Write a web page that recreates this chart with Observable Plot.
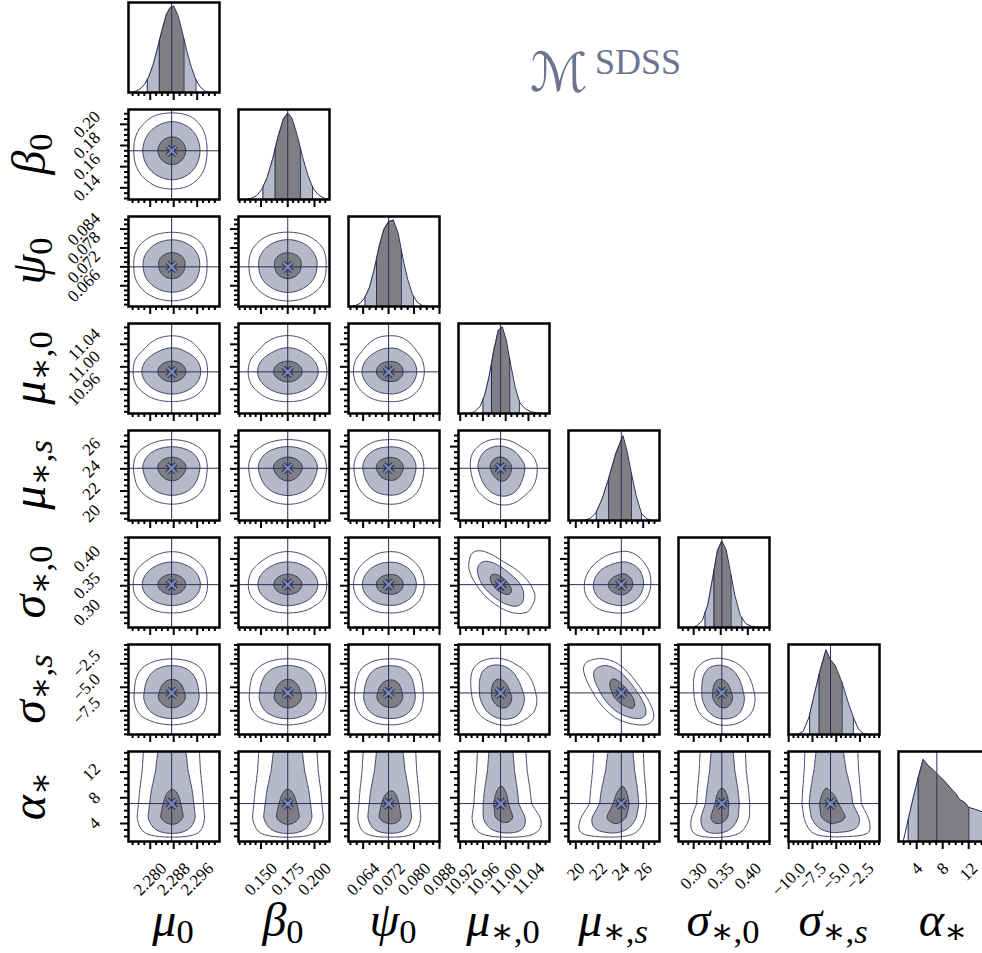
<!DOCTYPE html>
<html>
<head>
<meta charset="utf-8">
<script src="https://cdn.jsdelivr.net/npm/d3@7"></script>
<script src="https://cdn.jsdelivr.net/npm/@observablehq/plot@0.6"></script>
<style>
  body { margin: 0; background: #fff; }
  #fig { position: relative; width: 982px; height: 953px; overflow: hidden; background: #fff; }
  .lab { position: absolute; font-family: "Liberation Serif", "DejaVu Serif", serif; font-style: italic;
         font-size: 48px; line-height: 48px; white-space: nowrap; color: #000; }
  .lab sub { font-style: normal; font-size: 0.72em; vertical-align: -0.2em; line-height: 0; }
  .lab sub i { font-style: italic; }
  .ttl { position: absolute; color: #6b7590; white-space: nowrap; }
</style>
</head>
<body>
<div id="fig"></div>
<script>
// ---------------- DATA ----------------
const axisLabels = ["μ<sub>0</sub>", "β<sub>0</sub>", "ψ<sub>0</sub>", "μ<sub>∗,0</sub>",
                    "μ<sub>∗,<i>s</i></sub>", "σ<sub>∗,0</sub>", "σ<sub>∗,<i>s</i></sub>", "α<sub>∗</sub>"];
const titleMain = "ℳ";
const titleSup = "SDSS";

// plotted range of each parameter
const domains = [[2.2726, 2.3036], [0.129, 0.214], [0.0594, 0.0880], [10.917, 11.077],
                 [19.35, 27.45], [0.272, 0.440], [-10.02, -0.45], [1.2, 15.2]];
// quantiles 2.5%, 16%, 50%, 84%, 97.5%  (50% = crosshair value)
const quantiles = [
  [2.2790, 2.2831, 2.2873, 2.2915, 2.2956],
  [0.1518, 0.1632, 0.1750, 0.1868, 0.1982],
  [0.0646, 0.0682, 0.0720, 0.0760, 0.0798],
  [10.960, 10.975, 10.991, 11.007, 11.024],
  [21.82, 22.92, 24.05, 24.95, 25.84],
  [0.321, 0.3375, 0.352, 0.369, 0.389],
  [-7.8, -6.8, -5.6, -4.38, -3.2],
  [2.69, 4.23, 7.1, 12.02, 14.9]
];
// tick values
const xTicks = [[2.280, 2.288, 2.296], [0.150, 0.175, 0.200], [0.064, 0.072, 0.080, 0.088],
                [10.92, 10.96, 11.00, 11.04], [20, 22, 24, 26], [0.30, 0.35, 0.40],
                [-10.0, -7.5, -5.0, -2.5], [4, 8, 12]];
const xMinor = [0.002, 0.005, 0.002, 0.01, 0.5, 0.01, 0.5, 1];
const xFormat = [".3f", ".3f", ".3f", ".2f", "d", ".2f", ".1f", "d"];
const yTicks = [[], [0.14, 0.16, 0.18, 0.20], [0.066, 0.072, 0.078, 0.084], [10.96, 11.00, 11.04],
                [20, 22, 24, 26], [0.30, 0.35, 0.40], [-7.5, -5.0, -2.5], [4, 8, 12]];
const yMinor = [0, 0.005, 0.0015, 0.01, 0.5, 0.01, 0.5, 1];
const yFormat = [null, ".2f", ".3f", ".2f", "d", ".2f", ".1f", "d"];

// 1-D marginal curves (x, relative height)
const margX = [
  [2.2735, 2.2750, 2.2765, 2.2780, 2.2795, 2.2810, 2.2825, 2.2840, 2.2855, 2.2868, 2.2880, 2.2895, 2.2910, 2.2925, 2.2940, 2.2955, 2.2970, 2.2985, 2.3000],
  [0.136, 0.141, 0.146, 0.151, 0.156, 0.161, 0.166, 0.171, 0.175, 0.179, 0.184, 0.189, 0.194, 0.199, 0.204, 0.209, 0.213],
  [0.0600, 0.0615, 0.0630, 0.0645, 0.0660, 0.0675, 0.0690, 0.0705, 0.0720, 0.0735, 0.0750, 0.0765, 0.0780, 0.0795, 0.0810, 0.0825, 0.0840],
  [10.935, 10.945, 10.955, 10.963, 10.971, 10.979, 10.987, 10.994, 11.001, 11.009, 11.017, 11.025, 11.035, 11.045, 11.055, 11.065],
  [20.3, 20.8, 21.3, 21.8, 22.35, 22.9, 23.55, 24.2, 24.55, 24.95, 25.4, 25.85, 26.3, 26.8],
  [0.296, 0.306, 0.316, 0.326, 0.336, 0.344, 0.352, 0.360, 0.368, 0.376, 0.386, 0.396, 0.406, 0.416, 0.426],
  [-9.5, -8.98, -8.45, -7.86, -7.22, -6.70, -6.07, -5.64, -5.11, -4.41, -3.78, -3.18, -2.65, -2.12, -1.6],
  [1.3, 1.92, 2.69, 3.46, 4.23, 5.0, 5.77, 6.54, 7.2, 8.32, 9.35, 10.0, 10.6, 11.1, 11.5, 12.02, 12.94, 14.08, 15.0, 15.6]
];
const margH = [
  [0.0, 0.015, 0.04, 0.09, 0.18, 0.32, 0.51, 0.71, 0.89, 0.97, 0.99, 0.88, 0.68, 0.47, 0.29, 0.15, 0.065, 0.02, 0.0],
  [0.0, 0.015, 0.045, 0.12, 0.26, 0.47, 0.72, 0.92, 0.99, 0.93, 0.73, 0.48, 0.27, 0.12, 0.05, 0.015, 0.0],
  [0.0, 0.01, 0.035, 0.10, 0.22, 0.43, 0.68, 0.88, 0.97, 0.99, 0.84, 0.55, 0.31, 0.14, 0.05, 0.012, 0.0],
  [0.0, 0.02, 0.08, 0.21, 0.43, 0.72, 0.95, 0.99, 0.84, 0.55, 0.29, 0.12, 0.05, 0.02, 0.006, 0.0],
  [0.0, 0.005, 0.025, 0.09, 0.25, 0.47, 0.76, 0.97, 0.80, 0.54, 0.27, 0.08, 0.02, 0.0],
  [0.0, 0.02, 0.08, 0.26, 0.60, 0.88, 0.99, 0.89, 0.63, 0.37, 0.14, 0.045, 0.015, 0.004, 0.0],
  [0.0, 0.005, 0.04, 0.20, 0.50, 0.73, 0.97, 0.86, 0.79, 0.60, 0.38, 0.19, 0.06, 0.01, 0.0],
  [0.0, 0.0, 0.25, 0.50, 0.73, 0.94, 0.87, 0.82, 0.77, 0.69, 0.60, 0.55, 0.48, 0.46, 0.44, 0.39, 0.37, 0.34, 0.32, 0.31]
];
// dependence between row parameter (y) and column parameter (x)
const rho = [
  [],
  [0],
  [0, 0],
  [0, 0, 0],
  [0, 0, 0, -0.1],
  [0, 0, 0, -0.6, 0.05],
  [0, 0, 0, -0.2, -0.62, -0.15],
  [0, 0, 0, -0.45, 0.55, 0.45, -0.5]
];
const alphaSpread = [0.03, 0.03, 0.03, 0.25, 0.15, 0.1, 0.1];
const massLevels = [0.45, 0.93, 0.994];
const massLevelsAlpha = [0.28, 0.87, 0.988];

// ---------------- STYLE / LAYOUT ----------------
const LIGHT = "#b5b9c8", DARK = "#7f7f83", LINE = "#2b2d55", MARK = "#7686b0";
const FONT = '"Liberation Serif", "DejaVu Serif", serif';
const TF = 17;
const PW = 91, PH = 90;
const colX = [127.5, 237.5, 347.5, 457.5, 567.5, 677.5, 787.5, 897.5];
const rowY = [1.5, 108.5, 215.5, 322.5, 429.5, 536.5, 643.5, 750.5];
const ML = 100, MR = 6, MT = 6, MB = 80;
const N = 8;

const fig = document.getElementById("fig");
const ctx = document.createElement("canvas").getContext("2d");
function textW(s) { ctx.font = `${TF}px ${FONT}`; return ctx.measureText(s).width; }

function interp(xs, hs, x) {
  if (x < xs[0] || x > xs[xs.length - 1]) return 0;
  let k = Math.min(xs.length - 2, Math.max(0, d3.bisectRight(xs, x) - 1));
  const t = (x - xs[k]) / (xs[k + 1] - xs[k]);
  return hs[k] + t * (hs[k + 1] - hs[k]);
}
const sig = v => (quantiles[v][3] - quantiles[v][1]) / 2;

// smoothed lookup of a marginal (for the 2-D contours)
function smoothDensity(v) {
  const xs = margX[v], hs = margH[v];
  const span = xs[xs.length - 1] - xs[0];
  const a = xs[0] - 0.2 * span, b = xs[xs.length - 1] + 0.2 * span;
  const M = 800, step = (b - a) / M;
  const raw = d3.range(M + 1).map(k => interp(xs, hs, a + k * step));
  const s = 0.35 * (span / (xs.length - 1)) / step;
  const R = Math.ceil(3 * s);
  const ker = d3.range(-R, R + 1).map(k => Math.exp(-0.5 * (k / s) ** 2));
  const sm = raw.map((_, k) => {
    let acc = 0, w = 0;
    for (let m = -R; m <= R; m++) { const kk = k + m; if (kk >= 0 && kk <= M) { acc += raw[kk] * ker[m + R]; w += ker[m + R]; } }
    return acc / w;
  });
  return x => {
    const t = (x - a) / step;
    if (t < 0 || t > M) return 0;
    const k = Math.min(M - 1, Math.floor(t)), f = t - k;
    return sm[k] * (1 - f) + sm[k + 1] * f;
  };
}
const dens = d3.range(N).map(smoothDensity);

function jointFn(i, j) {
  const gx = dens[j], gy = dens[i];
  const cx = quantiles[j][2], sx = sig(j);
  const cy = quantiles[i][2];
  const r = rho[i][j];
  if (i < N - 1) {
    const sy = sig(i), k = Math.sqrt(1 - r * r);
    return (x, y) => { const z = (y - cy) / sy; return gy(y) * gx(cx + (x - cx - r * sx * z) / k) / k; };
  }
  const sLow = cy - quantiles[i][1];
  return (x, a) => {
    const z = Math.min(0, (a - cy) / sLow);
    const k = 1 + alphaSpread[j] * (-z);
    return gy(a) * gx(cx + (x - cx - r * sx * z) / k) / k;
  };
}

const NG = 72;
function gridFor(i, j) {
  const [x1, x2] = domains[j], [y1, y2] = domains[i];
  const f = jointFn(i, j);
  const vals = new Array(NG * NG);
  for (let r = 0; r < NG; r++) {
    const y = y1 + (r + 0.5) * (y2 - y1) / NG;
    for (let c = 0; c < NG; c++) {
      const x = x1 + (c + 0.5) * (x2 - x1) / NG;
      vals[r * NG + c] = f(x, y);
    }
  }
  const sorted = vals.slice().sort((p, q) => q - p);
  const tot = d3.sum(sorted);
  const levels = i === N - 1 ? massLevelsAlpha : massLevels;
  const th = levels.map(L => {
    let acc = 0;
    for (const v of sorted) { acc += v; if (acc >= L * tot) return v; }
    return sorted[sorted.length - 1];
  });
  return {vals, th, x1, x2, y1, y2};
}

function minorTicks(dom, step, majors) {
  if (!step) return [];
  const out = [];
  for (let k = Math.ceil(dom[0] / step - 1e-9); k * step <= dom[1] + 1e-9; k++) {
    const v = +(k * step).toFixed(10);
    if (!majors.some(m => Math.abs(m - v) < step * 1e-3)) out.push(v);
  }
  return out;
}
const inDom = (ts, dom) => ts.filter(t => t >= dom[0] - 1e-9 && t <= dom[1] + 1e-9);
const textStyle = {fontSize: TF, fontFamily: FONT, fill: "black", rotate: -45, textAnchor: "middle", lineAnchor: "middle"};

function panel(i, j) {
  const diag = i === j;
  const marks = [];
  if (diag) {
    const xs = margX[j], hs = margH[j], q = quantiles[j];
    const pts = xs.map((x, k) => ({x, y: hs[k]}));
    const h = x => interp(xs, hs, x);
    const seg = (a, b) => [{x: a, y: h(a)}, ...pts.filter(p => p.x > a && p.x < b), {x: b, y: h(b)}];
    marks.push(Plot.areaY(seg(q[0], q[4]), {x: "x", y: "y", fill: LIGHT, clip: true}));
    marks.push(Plot.areaY(seg(q[1], q[3]), {x: "x", y: "y", fill: DARK, clip: true}));
    marks.push(Plot.line(pts, {x: "x", y: "y", stroke: LINE, strokeWidth: 1, clip: true}));
    marks.push(Plot.ruleX([q[0], q[1], q[3], q[4]], {x: d => d, y1: 0, y2: d => h(d), stroke: LINE, strokeWidth: 1, clip: true}));
    marks.push(Plot.ruleX([q[2]], {stroke: LINE, strokeWidth: 1}));
  } else {
    const g = gridFor(i, j);
    const common = {value: Plot.identity, width: NG, height: NG, x1: g.x1, x2: g.x2, y1: g.y1, y2: g.y2,
                    stroke: LINE, strokeWidth: 0.9, clip: true};
    marks.push(Plot.contour(g.vals, {...common, thresholds: [g.th[1]], fill: LIGHT}));
    marks.push(Plot.contour(g.vals, {...common, thresholds: [g.th[0]], fill: DARK}));
    marks.push(Plot.contour(g.vals, {...common, thresholds: [g.th[2]], fill: "none"}));
    const cx = quantiles[j][2], cy = quantiles[i][2];
    marks.push(Plot.ruleX([cx], {stroke: LINE, strokeWidth: 1}));
    marks.push(Plot.ruleY([cy], {stroke: LINE, strokeWidth: 1}));
    marks.push(Plot.dot([[cx, cy]], {x: d => d[0], y: d => d[1], symbol: "times", r: 4.2, stroke: LINE, strokeWidth: 4.4}));
    marks.push(Plot.dot([[cx, cy]], {x: d => d[0], y: d => d[1], symbol: "times", r: 4.2, stroke: MARK, strokeWidth: 2.4}));
    const yt = inDom(yTicks[i], domains[i]);
    marks.push(Plot.axisY(minorTicks(domains[i], yMinor[i], yt), {tickSize: 4, strokeWidth: 2, fill: "none", label: null, stroke: "black"}));
    marks.push(Plot.axisY(yt, {tickSize: 8, strokeWidth: 2, fill: "none", label: null, stroke: "black"}));
    if (j === 0) {
      for (const t of yt) {
        const s = d3.format(yFormat[i])(t);
        const W = (textW(s) + TF) / Math.SQRT2;
        marks.push(Plot.text([t], {...textStyle, y: d => d, text: () => s, frameAnchor: "left", dx: -(25 + W / 2)}));
      }
    }
  }
  const xt = inDom(xTicks[j], domains[j]);
  marks.push(Plot.axisX(minorTicks(domains[j], xMinor[j], xt), {tickSize: 4, strokeWidth: 2, fill: "none", label: null, stroke: "black"}));
  marks.push(Plot.axisX(xt, {tickSize: 8, strokeWidth: 2, fill: "none", label: null, stroke: "black"}));
  if (i === N - 1) {
    for (const t of xt) {
      const s = d3.format(xFormat[j])(t);
      const H = (textW(s) + TF) / Math.SQRT2;
      marks.push(Plot.text([t], {...textStyle, x: d => d, text: () => s, frameAnchor: "bottom", dy: 18 + H / 2}));
    }
  }
  marks.push(Plot.frame({stroke: "black", strokeWidth: 2.5}));

  const svg = Plot.plot({
    width: PW + ML + MR, height: PH + MT + MB,
    marginLeft: ML, marginRight: MR, marginTop: MT, marginBottom: MB,
    x: {domain: domains[j], label: null},
    y: diag ? {domain: [0, 1.03], axis: null, label: null} : {domain: domains[i], label: null},
    style: {background: "none", overflow: "visible", fontSize: TF + "px", fontFamily: FONT},
    marks
  });
  svg.style.position = "absolute";
  svg.style.left = (colX[j] - ML) + "px";
  svg.style.top = (rowY[i] - MT) + "px";
  fig.appendChild(svg);
}

for (let i = 0; i < N; i++) for (let j = 0; j <= i; j++) panel(i, j);

// axis labels
for (let j = 0; j < N; j++) {
  const d = document.createElement("div");
  d.className = "lab";
  d.innerHTML = axisLabels[j];
  d.style.left = (colX[j] + PW / 2) + "px";
  d.style.top = "896px";
  d.style.transform = "translateX(-50%)";
  fig.appendChild(d);
}
for (let i = 1; i < N; i++) {
  const d = document.createElement("div");
  d.className = "lab";
  d.innerHTML = axisLabels[i];
  d.style.left = "29px";
  d.style.top = (rowY[i] + PH / 2) + "px";
  d.style.transform = "translate(-50%, -50%) rotate(-90deg)";
  fig.appendChild(d);
}
// title
const tm = document.createElement("div");
tm.className = "ttl";
tm.textContent = titleMain;
tm.style.cssText += 'left:530px;top:46px;font-family:"DejaVu Serif","DejaVu Sans",serif;font-size:54px;line-height:54px;';
fig.appendChild(tm);
const ts = document.createElement("div");
ts.className = "ttl";
ts.textContent = titleSup;
ts.style.cssText += 'left:595px;top:44px;font-family:"Liberation Serif",serif;font-size:36px;line-height:36px;';
fig.appendChild(ts);
</script>
</body>
</html>
